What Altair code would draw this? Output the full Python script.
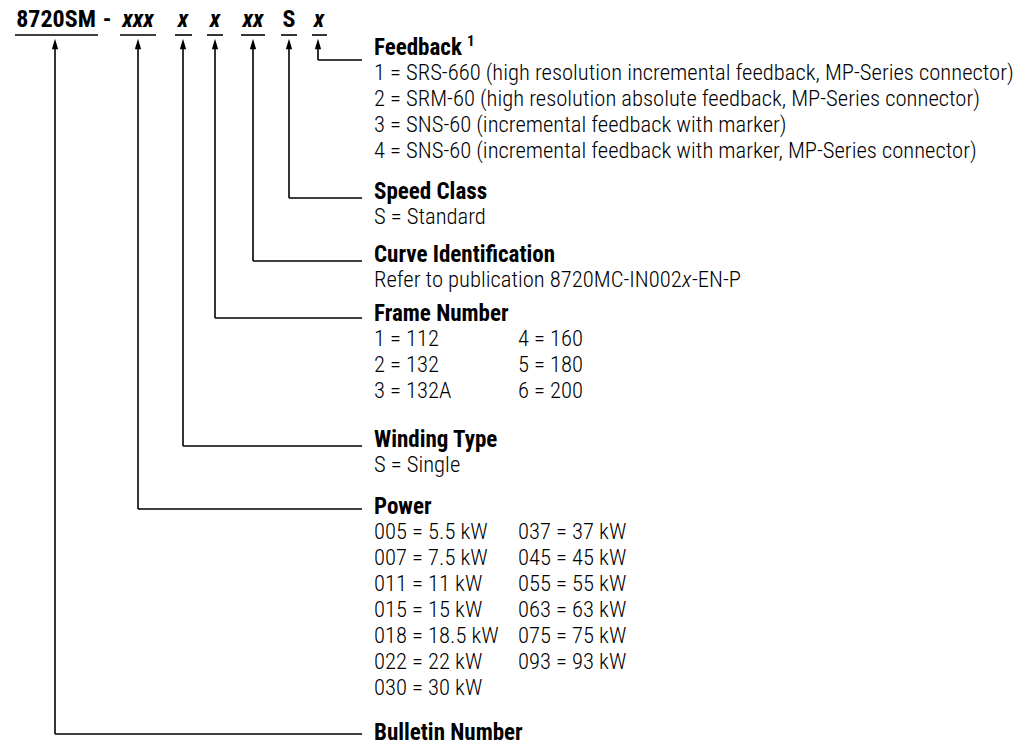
import altair as alt
import pandas as pd

FONT = "Roboto Condensed, DejaVu Sans Condensed, Liberation Sans Narrow, Roboto, sans-serif"

# ---------------- content ----------------
code_parts = ["8720SM", "-", "xxx", "x", "x", "xx", "S", "x"]
code_italic = [False, False, True, True, True, True, False, True]

sections = ["Feedback", "Speed Class", "Curve Identification", "Frame Number",
            "Winding Type", "Power", "Bulletin Number"]

feedback_items = [
    "1 = SRS-660 (high resolution incremental feedback, MP-Series connector)",
    "2 = SRM-60 (high resolution absolute feedback, MP-Series connector)",
    "3 = SNS-60 (incremental feedback with marker)",
    "4 = SNS-60 (incremental feedback with marker, MP-Series connector)",
]
speed_items = ["S = Standard"]
curve_parts = ["Refer to publication 8720MC-IN002", "x", "-EN-P"]
frame_col1 = ["1 = 112", "2 = 132", "3 = 132A"]
frame_col2 = ["4 = 160", "5 = 180", "6 = 200"]
winding_items = ["S = Single"]
power_col1 = ["005 = 5.5 kW", "007 = 7.5 kW", "011 = 11 kW", "015 = 15 kW",
              "018 = 18.5 kW", "022 = 22 kW", "030 = 30 kW"]
power_col2 = ["037 = 37 kW", "045 = 45 kW", "055 = 55 kW", "063 = 63 kW",
              "075 = 75 kW", "093 = 93 kW"]

# ---------------- layout (pixel space of the page) ----------------
code_x = [56, 107, 138, 183, 215, 253, 289, 319]
code_y = 20
underline_x1 = [15, 120, 175, 207, 241, 281, 312]
underline_x2 = [98, 156, 192, 223, 265, 297, 327]
underline_y = 35
pointer_x = [55, 138, 183, 215, 253, 289, 318]
pointer_target = ["Bulletin Number", "Power", "Winding Type", "Frame Number",
                  "Curve Identification", "Speed Class", "Feedback"]
arrow_y = 44
leader_end_x = 362
label_x = 374
col2_x = 518
row_step = 26
first_row_gap = 25
section_y = {"Feedback": 48, "Speed Class": 192, "Curve Identification": 255,
             "Frame Number": 314, "Winding Type": 440, "Power": 507,
             "Bulletin Number": 733}
leader_y = {"Feedback": 60, "Speed Class": 198, "Curve Identification": 261,
            "Frame Number": 318, "Winding Type": 446, "Power": 509,
            "Bulletin Number": 734}
italic_x_pos = 682

# ---------------- build tables ----------------
code_df = pd.DataFrame({"x": code_x, "y": code_y, "t": code_parts, "it": code_italic})

segs = []
for a, b in zip(underline_x1, underline_x2):
    segs.append(dict(x1=a, x2=b, y1=underline_y, y2=underline_y))
for px, tgt in zip(pointer_x, pointer_target):
    ly = leader_y[tgt]
    segs.append(dict(x1=px, x2=px, y1=arrow_y, y2=ly))
    segs.append(dict(x1=px, x2=leader_end_x, y1=ly, y2=ly))
seg_df = pd.DataFrame(segs)

arrow_df = pd.DataFrame({"x": pointer_x, "y": [arrow_y] * len(pointer_x)})

sec_df = pd.DataFrame({"x": [label_x] * len(sections),
                       "y": [section_y[s] for s in sections], "t": sections})

rows = []
def add_rows(sec, items, x):
    for i, t in enumerate(items):
        rows.append(dict(x=x, y=section_y[sec] + first_row_gap + i * row_step, t=t))
add_rows("Feedback", feedback_items, label_x)
add_rows("Speed Class", speed_items, label_x)
add_rows("Frame Number", frame_col1, label_x)
add_rows("Frame Number", frame_col2, col2_x)
add_rows("Winding Type", winding_items, label_x)
add_rows("Power", power_col1, label_x)
add_rows("Power", power_col2, col2_x)
item_df = pd.DataFrame(rows)

curve_y = section_y["Curve Identification"] + first_row_gap
curve_df1 = pd.DataFrame({"x": [label_x], "y": [curve_y], "t": [curve_parts[0]]})
curve_df2 = pd.DataFrame({"x": [italic_x_pos], "y": [curve_y], "t": [curve_parts[1]]})
curve_df3 = pd.DataFrame({"x": [italic_x_pos + 10], "y": [curve_y], "t": [curve_parts[2]]})

sup_df = pd.DataFrame({"x": [467], "y": [section_y["Feedback"] - 7], "t": ["1"]})

# ---------------- scales ----------------
H = 739
XS = alt.Scale(domain=[8, 1018], nice=False, zero=False)
YS = alt.Scale(domain=[8, 8 + H], nice=False, zero=False, reverse=True)

def X(f="x"):
    return alt.X(f"{f}:Q", scale=XS, axis=None)

def Y(f="y"):
    return alt.Y(f"{f}:Q", scale=YS, axis=None)

lines = alt.Chart(seg_df).mark_rule(color="black", strokeWidth=1.6).encode(
    x=X("x1"), x2="x2:Q", y=Y("y1"), y2="y2:Q")

arrows = alt.Chart(arrow_df).mark_point(
    shape="M0,-1L0.6,1L-0.6,1Z", filled=True, size=110, color="black", opacity=1
).encode(x=X(), y=Y())

code_plain = alt.Chart(code_df[~code_df["it"]]).mark_text(
    font=FONT, fontSize=24, fontWeight="bold", align="center", baseline="middle",
    color="black").encode(x=X(), y=Y(), text="t:N")
code_ital = alt.Chart(code_df[code_df["it"]]).mark_text(
    font=FONT, fontSize=24, fontWeight="bold", fontStyle="italic", align="center",
    baseline="middle", color="black").encode(x=X(), y=Y(), text="t:N")

sec_text = alt.Chart(sec_df).mark_text(
    font=FONT, fontSize=23, fontWeight="bold", align="left", baseline="middle",
    color="black").encode(x=X(), y=Y(), text="t:N")

sup_text = alt.Chart(sup_df).mark_text(
    font=FONT, fontSize=15, fontWeight="bold", align="left", baseline="middle",
    color="black").encode(x=X(), y=Y(), text="t:N")

ITEM_W = 300
ITEM_SIZE = 22.6
item_text = alt.Chart(item_df).mark_text(
    font=FONT, fontSize=ITEM_SIZE, fontWeight=ITEM_W, align="left", baseline="middle",
    color="black").encode(x=X(), y=Y(), text="t:N")

curve1 = alt.Chart(curve_df1).mark_text(
    font=FONT, fontSize=ITEM_SIZE, fontWeight=ITEM_W, align="left", baseline="middle",
    color="black").encode(x=X(), y=Y(), text="t:N")
curve2 = alt.Chart(curve_df2).mark_text(
    font=FONT, fontSize=ITEM_SIZE, fontWeight=ITEM_W, fontStyle="italic", align="left",
    baseline="middle", color="black").encode(x=X(), y=Y(), text="t:N")
curve3 = alt.Chart(curve_df3).mark_text(
    font=FONT, fontSize=ITEM_SIZE, fontWeight=ITEM_W, align="left", baseline="middle",
    color="black").encode(x=X(), y=Y(), text="t:N")

chart = alt.layer(
    lines, arrows, code_plain, code_ital, sec_text, sup_text, item_text,
    curve1, curve2, curve3
).properties(
    width=1010, height=H, padding=0, autosize=alt.AutoSizeParams(type="none"),
    background="white"
).configure_view(stroke=None)

chart.save("out.html", embed_options={"renderer": "svg", "actions": False})
